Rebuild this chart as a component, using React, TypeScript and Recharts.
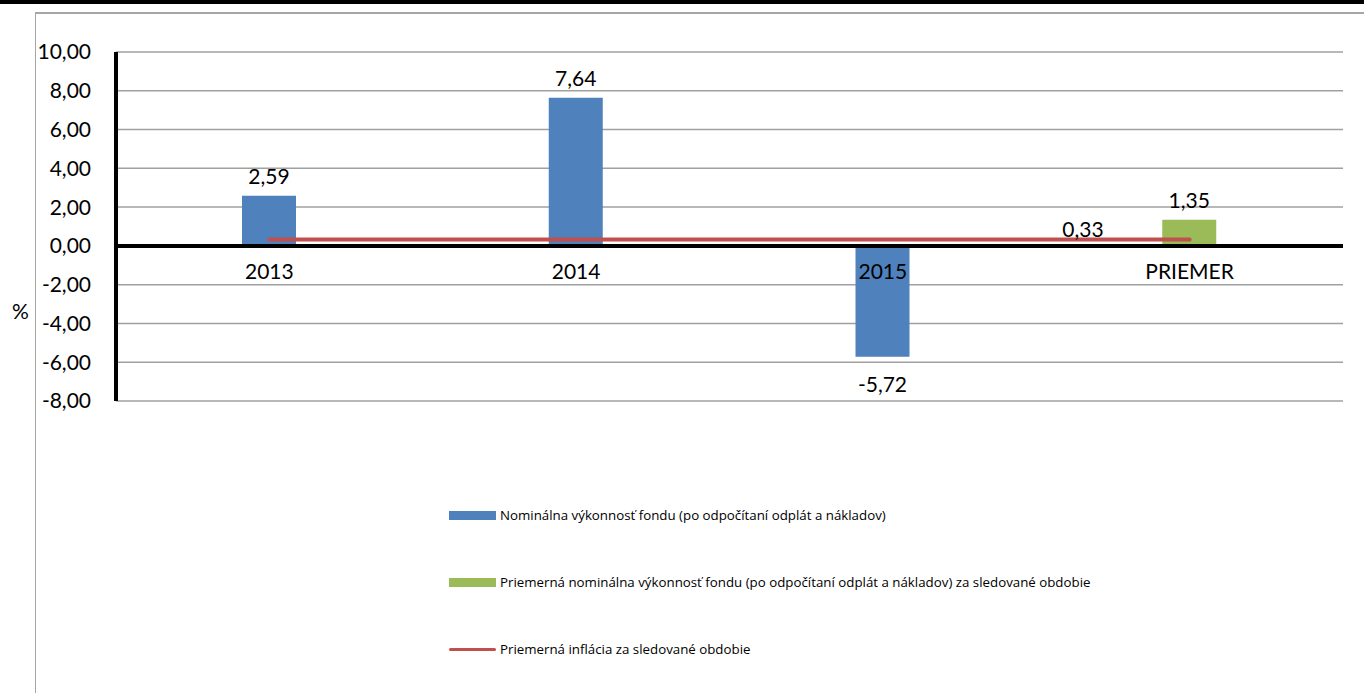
import { BarChart, Bar, Line, XAxis, YAxis, CartesianGrid, ReferenceLine, ReferenceDot, LabelList } from 'recharts'

const categories = ['2013', '2014', '2015', 'PRIEMER']
const nominal = [2.59, 7.64, -5.72, null]
const average = [null, null, null, 1.35]
const inflation = [0.33, 0.33, 0.33, 0.33]
const yTicks = [-8, -6, -4, -2, 0, 2, 4, 6, 8, 10]

const legendItems = [
  { label: 'Nominálna výkonnosť fondu (po odpočítaní odplát a nákladov)', color: '#4f81bd', kind: 'bar' },
  { label: 'Priemerná nominálna výkonnosť fondu (po odpočítaní odplát a nákladov) za sledované obdobie', color: '#9bbb59', kind: 'bar' },
  { label: 'Priemerná inflácia za sledované obdobie', color: '#c0504d', kind: 'line' },
]

const data = categories.map((cat, i) => ({
  cat,
  nominal: nominal[i],
  average: average[i],
  inflation: inflation[i],
}))

const FONT = 'Lato, "Liberation Sans", sans-serif'
const fmt = (v: number) => v.toFixed(2).replace('.', ',')

function BarValueLabel(props: any) {
  const { x, y, width, height, value } = props
  if (value === null || value === undefined) return null
  const top = Math.min(y, y + height)
  const bottom = Math.max(y, y + height)
  const cy = value >= 0 ? top - 20 : bottom + 27
  return (
    <text x={x + width / 2} y={cy} textAnchor="middle" dominantBaseline="central" fontSize={21} fontFamily={FONT} fill="#000">
      {fmt(value)}
    </text>
  )
}

function LineEndLabel(props: any) {
  const { x, y, value, index } = props
  if (index !== categories.length - 1) return null
  return (
    <text x={x - 86} y={y - 11} textAnchor="end" dominantBaseline="central" fontSize={21} fontFamily={FONT} fill="#000">
      {fmt(value)}
    </text>
  )
}

export default function App() {
  return (
    <div style={{ position: 'absolute', left: 0, top: 0, width: 1364, height: 693, background: '#fff', overflow: 'hidden' }}>
      <div style={{ position: 'absolute', left: 0, top: 0, width: 1364, height: 4, background: '#000' }} />
      <div style={{ position: 'absolute', left: 35, top: 12, width: 1340, height: 700, borderLeft: '1px solid #a6a6a6', borderTop: '2px solid #a6a6a6' }} />
      <div style={{ position: 'absolute', left: 0, top: 0 }}>
        <BarChart width={1364} height={693} data={data} margin={{ top: 52, right: 21, bottom: 292, left: 0 }}>
          <CartesianGrid vertical={false} stroke="#a0a0a0" strokeWidth={1.5} />
          <XAxis dataKey="cat" hide />
          <YAxis
            domain={[-8, 10]}
            ticks={yTicks}
            width={116}
            tickFormatter={fmt}
            tickLine={false}
            tickMargin={19}
            axisLine={{ stroke: '#000', strokeWidth: 4 }}
            tick={{ fontSize: 21, fontFamily: FONT, fill: '#000' }}
            interval={0}
            label={{ value: '%', position: 'insideLeft', offset: 12, dy: 85, fontSize: 21, fontFamily: FONT, fill: '#000' }}
          />
          <ReferenceLine y={0} stroke="#000" strokeWidth={4} />
          <Bar dataKey="nominal" stackId="s" fill="#4f81bd" barSize={54} isAnimationActive={false}>
            <LabelList dataKey="nominal" content={BarValueLabel} />
          </Bar>
          <Bar dataKey="average" stackId="s" fill="#9bbb59" barSize={54} isAnimationActive={false}>
            <LabelList dataKey="average" content={BarValueLabel} />
          </Bar>
          <Line dataKey="inflation" stroke="#c0504d" strokeWidth={4} strokeLinecap="round" dot={false} isAnimationActive={false}>
            <LabelList dataKey="inflation" content={LineEndLabel} />
          </Line>
          {categories.map((c) => (
            <ReferenceDot
              key={c}
              x={c}
              y={0}
              r={0}
              fill="none"
              stroke="none"
              label={{ value: c, position: 'bottom', offset: 18, fontSize: 21, fontFamily: FONT, fill: '#000' }}
            />
          ))}
        </BarChart>
      </div>
      <div style={{ position: 'absolute', left: 449, top: 500, fontFamily: '"Open Sans", sans-serif', fontSize: 13.3, color: '#000' }}>
        {legendItems.map((item, i) => (
          <div key={i} style={{ display: 'flex', alignItems: 'center', height: 30, marginBottom: i < legendItems.length - 1 ? 37 : 0 }}>
            <span
              style={{
                display: 'inline-block',
                width: 47,
                height: item.kind === 'bar' ? 9 : 3,
                background: item.color,
                borderRadius: item.kind === 'line' ? 2 : 0,
                marginRight: 4,
              }}
            />
            <span>{item.label}</span>
          </div>
        ))}
      </div>
    </div>
  )
}
